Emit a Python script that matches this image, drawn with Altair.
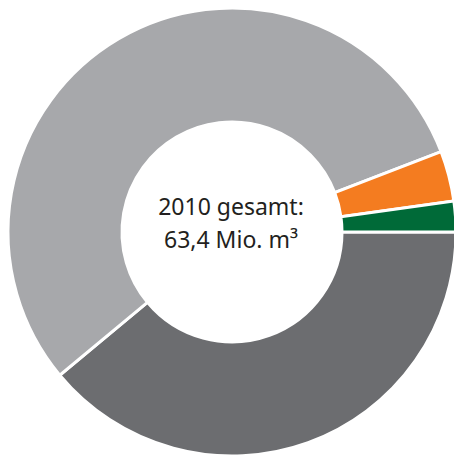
import altair as alt
import pandas as pd
import math

categories = ["Dunkelgrau", "Hellgrau", "Orange", "Grün"]
values = [24.7, 35.0, 2.3, 1.4]
colors = ["#6c6d70", "#a7a8ab", "#f47c20", "#006a38"]
order = [1, 2, 3, 4]
center_lines = ["2010 gesamt:", "63,4 Mio. m³"]

df = pd.DataFrame({"kategorie": categories, "wert": values, "ord": order})

start = math.pi / 2

donut = alt.Chart(df).mark_arc(
    innerRadius=110, outerRadius=224, stroke="white", strokeWidth=3
).encode(
    theta=alt.Theta("wert:Q", stack=True,
                    scale=alt.Scale(range=[start, start + 2 * math.pi])),
    color=alt.Color("kategorie:N",
                    scale=alt.Scale(domain=categories, range=colors),
                    legend=None),
    order=alt.Order("ord:Q"),
    x=alt.value(232),
    y=alt.value(232),
)

txt1 = alt.Chart(pd.DataFrame({"t": [center_lines[0]]})).mark_text(
    font="Noto Sans", fontSize=23, color="#231f20", align="center", baseline="alphabetic"
).encode(text="t:N", x=alt.value(231), y=alt.value(215))

txt2 = alt.Chart(pd.DataFrame({"t": [center_lines[1]]})).mark_text(
    font="Noto Sans", fontSize=23, color="#231f20", align="center", baseline="alphabetic"
).encode(text="t:N", x=alt.value(231), y=alt.value(248))

chart = alt.layer(donut, txt1, txt2).properties(
    width=454, height=457, autosize="none", padding=0, background="white"
).configure_view(stroke=None)

chart.save("out.html", embed_options={"renderer": "svg", "actions": False})
